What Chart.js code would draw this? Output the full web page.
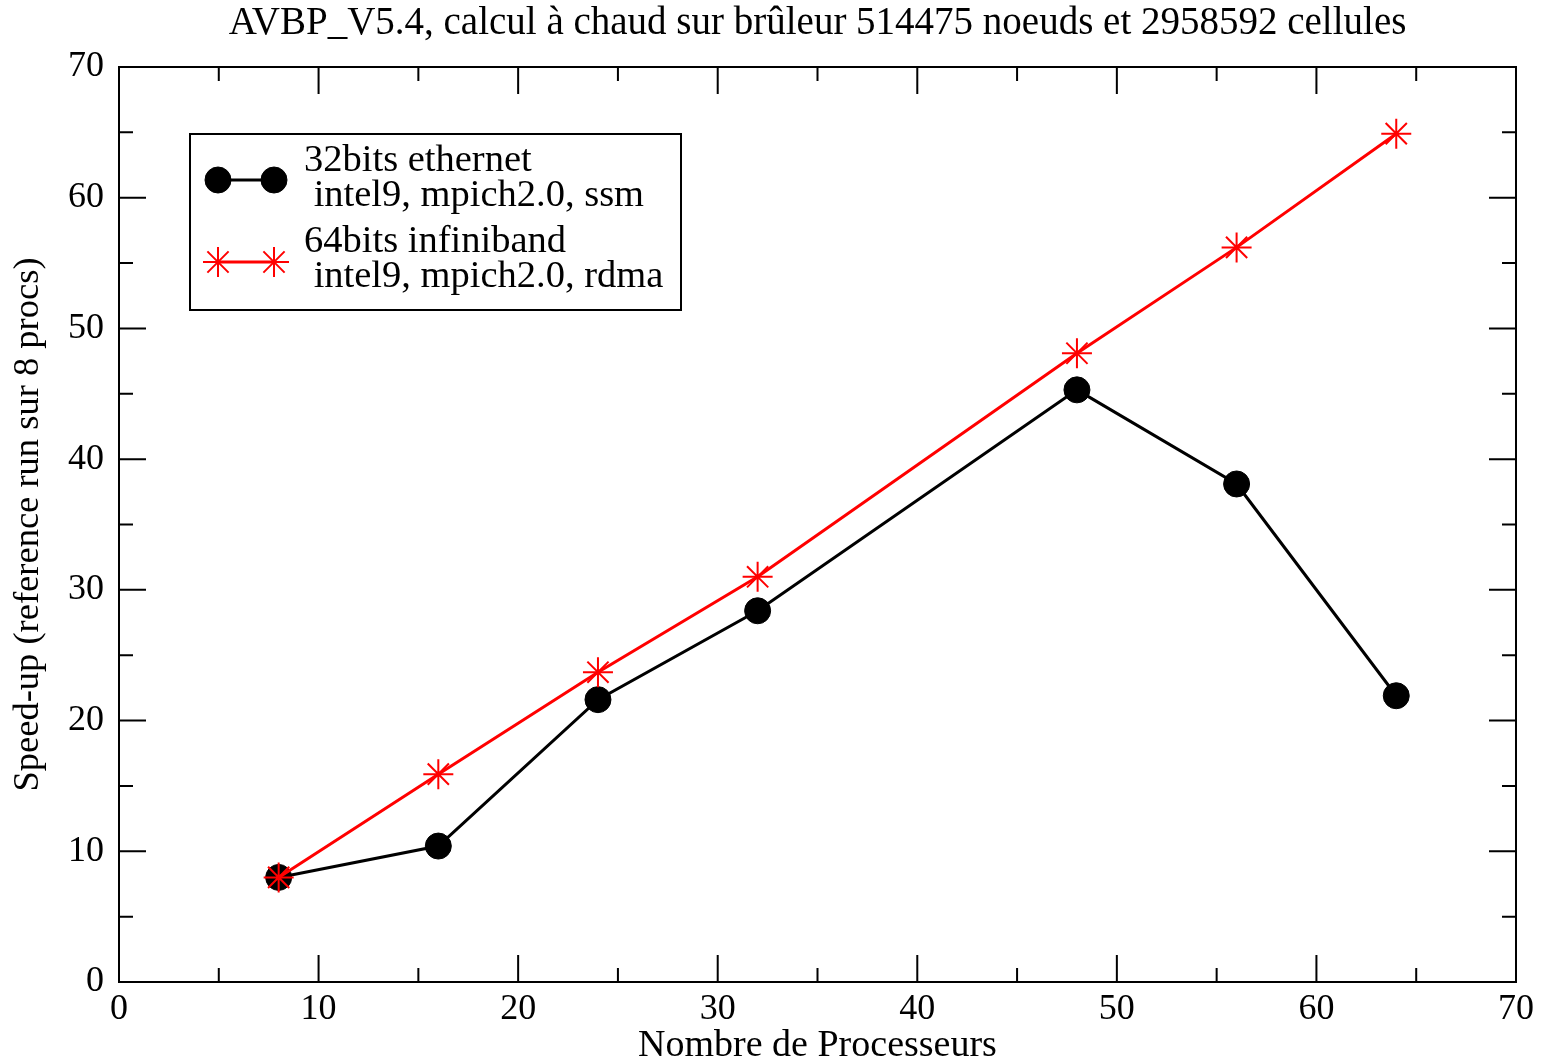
<!DOCTYPE html>
<html>
<head>
<meta charset="utf-8">
<script src="https://cdn.jsdelivr.net/npm/chart.js@4"></script>
<style>
  html, body { margin: 0; padding: 0; background: #fff; }
  #wrap { width: 1547px; height: 1063px; }
</style>
</head>
<body>
<div id="wrap"><canvas id="chart" width="1547" height="1063"></canvas></div>
<script>
// speed-up data
const processors = [8, 16, 24, 32, 48, 56, 64];
const ethernet32 = [8, 10.4, 21.6, 28.4, 45.3, 38.1, 21.9];
const infiniband64 = [8, 15.9, 23.7, 31.0, 48.1, 56.2, 64.9];

const xTicks = [0, 10, 20, 30, 40, 50, 60, 70];
const yTicks = [0, 10, 20, 30, 40, 50, 60, 70];

const legendLines = [
  ['32bits ethernet', ' intel9, mpich2.0, ssm'],
  ['64bits infiniband', ' intel9, mpich2.0, rdma']
];

const serif = '"Liberation Serif", "DejaVu Serif", serif';

// inward ticks on all 4 sides + frame (grace style)
const frameTicks = {
  id: 'frameTicks',
  afterDraw(chart) {
    const ctx = chart.ctx;
    const a = chart.chartArea;
    const xs = chart.scales.x, ys = chart.scales.y;
    ctx.save();
    ctx.strokeStyle = '#000';
    ctx.lineWidth = 2;
    ctx.beginPath();
    for (let v = 5; v < 70; v += 5) {
      const len = v % 10 === 0 ? 27 : 14;
      const px = xs.getPixelForValue(v);
      ctx.moveTo(px, a.bottom); ctx.lineTo(px, a.bottom - len);
      ctx.moveTo(px, a.top); ctx.lineTo(px, a.top + len);
      const py = ys.getPixelForValue(v);
      ctx.moveTo(a.left, py); ctx.lineTo(a.left + len, py);
      ctx.moveTo(a.right, py); ctx.lineTo(a.right - len, py);
    }
    ctx.stroke();
    ctx.strokeRect(a.left, a.top, a.right - a.left, a.bottom - a.top);
    ctx.restore();
  }
};

// legend box with two-line labels
const boxLegend = {
  id: 'boxLegend',
  afterDraw(chart) {
    const ctx = chart.ctx;
    ctx.save();
    ctx.fillStyle = '#fff';
    ctx.fillRect(190, 134, 491, 176);
    ctx.strokeStyle = '#000';
    ctx.lineWidth = 2;
    ctx.strokeRect(190, 134, 491, 176);

    const rows = [
      { y: 180, ds: chart.data.datasets[1], t1: 161, t2: 196, lines: legendLines[0] },
      { y: 262, ds: chart.data.datasets[0], t1: 242, t2: 277, lines: legendLines[1] }
    ];
    rows.forEach(r => {
      ctx.strokeStyle = r.ds.borderColor;
      ctx.fillStyle = r.ds.pointBackgroundColor;
      ctx.lineWidth = r.ds.borderWidth;
      ctx.beginPath();
      ctx.moveTo(218, r.y); ctx.lineTo(274, r.y);
      ctx.stroke();
      const opts = {
        pointStyle: r.ds.pointStyle,
        radius: r.ds.pointRadius,
        rotation: 0,
        borderWidth: r.ds.pointBorderWidth
      };
      ctx.strokeStyle = r.ds.pointBorderColor;
      ctx.lineWidth = r.ds.pointBorderWidth;
      Chart.helpers.drawPoint(ctx, opts, 218, r.y);
      Chart.helpers.drawPoint(ctx, opts, 274, r.y);

      ctx.fillStyle = '#000';
      ctx.font = '38.5px ' + serif;
      ctx.textBaseline = 'middle';
      ctx.textAlign = 'left';
      ctx.fillText(r.lines[0], 304, r.t1);
      ctx.fillText(r.lines[1], 304, r.t2);
    });
    ctx.restore();
  }
};

new Chart(document.getElementById('chart'), {
  type: 'line',
  data: {
    datasets: [
      {
        label: '64bits infiniband',
        data: processors.map((p, i) => ({ x: p, y: infiniband64[i] })),
        borderColor: '#ff0000',
        borderWidth: 3,
        pointStyle: 'star',
        pointRadius: 15,
        pointBorderColor: '#ff0000',
        pointBackgroundColor: '#ff0000',
        pointBorderWidth: 2,
        order: 0
      },
      {
        label: '32bits ethernet',
        data: processors.map((p, i) => ({ x: p, y: ethernet32[i] })),
        borderColor: '#000',
        borderWidth: 3,
        pointStyle: 'circle',
        pointRadius: 13,
        pointBorderColor: '#000',
        pointBackgroundColor: '#000',
        pointBorderWidth: 1,
        order: 1
      }
    ]
  },
  options: {
    responsive: false,
    animation: false,
    layout: { padding: { left: 0, right: 31, top: 0, bottom: 0 } },
    plugins: {
      legend: { display: false },
      tooltip: { enabled: false },
      title: {
        display: true,
        fullSize: false,
        text: 'AVBP_V5.4, calcul à chaud sur brûleur 514475 noeuds et 2958592 cellules',
        color: '#000',
        font: { family: serif, size: 39, weight: 'normal', lineHeight: 1.2 },
        padding: { top: 0, bottom: 20.2 }
      }
    },
    scales: {
      x: {
        type: 'linear',
        min: 0, max: 70,
        afterBuildTicks: s => { s.ticks = xTicks.map(v => ({ value: v })); },
        afterFit: s => { s.height = 81; },
        grid: { display: false, drawTicks: false },
        border: { display: false },
        ticks: { color: '#000', padding: 6, font: { family: serif, size: 36 } },
        title: {
          display: true,
          text: 'Nombre de Processeurs',
          color: '#000',
          font: { family: serif, size: 38, lineHeight: 0.9 },
          padding: { top: 0, bottom: 0 }
        }
      },
      y: {
        type: 'linear',
        min: 0, max: 70,
        afterBuildTicks: s => { s.ticks = yTicks.map(v => ({ value: v })); },
        afterFit: s => { s.width = 119; },
        grid: { display: false, drawTicks: false },
        border: { display: false },
        ticks: { color: '#000', padding: 15, font: { family: serif, size: 36 } },
        title: {
          display: true,
          text: 'Speed-up (reference run sur 8 procs)',
          color: '#000',
          font: { family: serif, size: 36.5 },
          padding: { top: 7, bottom: 0 }
        }
      }
    }
  },
  plugins: [frameTicks, boxLegend]
});
</script>
</body>
</html>
